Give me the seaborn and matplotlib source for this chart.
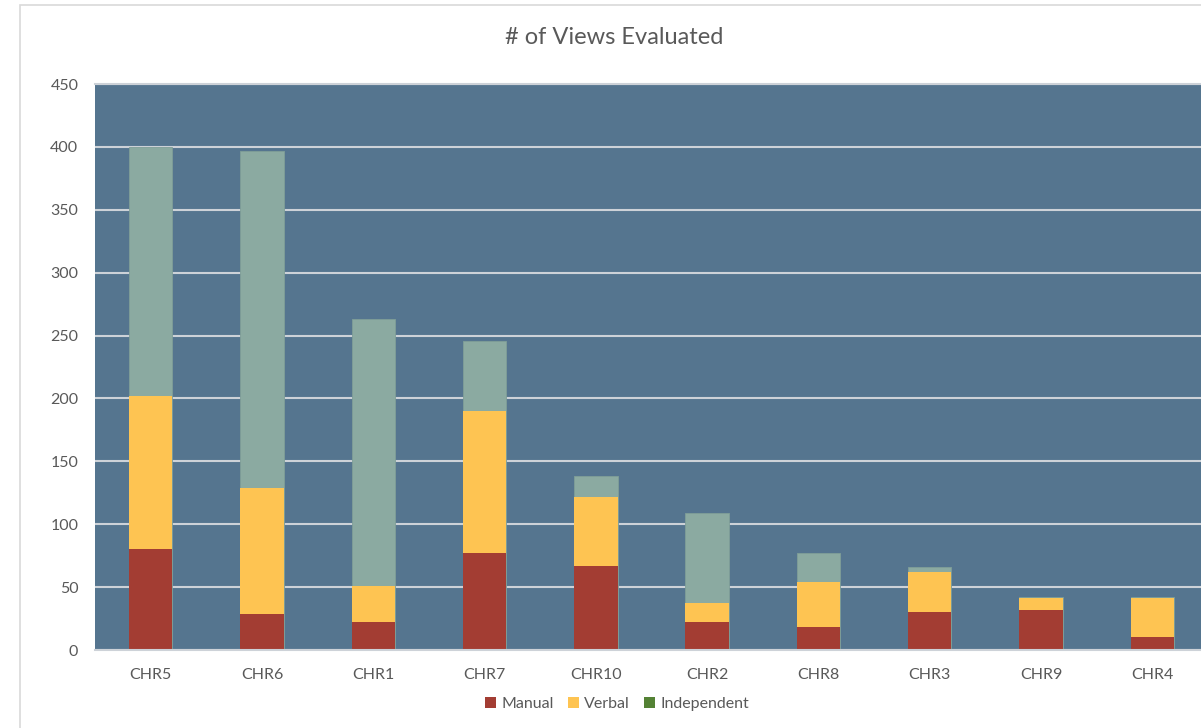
import matplotlib
matplotlib.use("Agg")
import matplotlib.pyplot as plt
import seaborn as sns
import pandas as pd
from matplotlib.patches import Patch, Rectangle

# ---- data ----
categories = ["CHR5", "CHR6", "CHR1", "CHR7", "CHR10", "CHR2", "CHR8", "CHR3", "CHR9", "CHR4"]
manual = [80, 29, 22, 77, 67, 22, 18, 30, 32, 10]
verbal = [122, 100, 29, 113, 55, 15, 36, 32, 9, 31]
independent = [198, 268, 212, 56, 16, 72, 23, 4, 1, 1]
series_names = ["Manual", "Verbal", "Independent"]
yticks = [0, 50, 100, 150, 200, 250, 300, 350, 400, 450]
title = "# of Views Evaluated"

# ---- styles ----
bg = "#55758F"
c_manual = "#A33D33"
c_verbal = "#FEC452"
c_indep_bar = "#8BAAA1"
c_indep_legend = "#548235"
grid_c = "#CDD2D8"
text_c = "#595959"

sns.set_style("white")
plt.rcParams["font.family"] = ["Lato", "DejaVu Sans"]

df = pd.DataFrame({"chr": categories, "Manual": manual,
                   "Verbal": verbal, "Independent": independent})
df["mv"] = df["Manual"] + df["Verbal"]
df["total"] = df["mv"] + df["Independent"]

W, H = 1201, 728
fig = plt.figure(figsize=(W / 100, H / 100), dpi=100)
fig.patch.set_facecolor("white")

# outer chart frame (cropped on right/bottom)
fig.patches.append(Rectangle((20 / W, -0.5), 2.0, 1.5 - 5 / H,
                             transform=fig.transFigure, fill=False,
                             edgecolor="#D9D9D9", linewidth=1.2))

ax = fig.add_axes([95 / W, 1 - 650 / H, (1208 - 95) / W, (650 - 84) / H])
ax.set_facecolor(bg)

bw = 0.39
sns.barplot(data=df, x="chr", y="total", order=categories, color=c_indep_bar,
            saturation=1, width=bw, linewidth=0.6, edgecolor="#7F9E97", ax=ax)
sns.barplot(data=df, x="chr", y="mv", order=categories, color=c_verbal,
            saturation=1, width=bw, linewidth=0, ax=ax)
sns.barplot(data=df, x="chr", y="Manual", order=categories, color=c_manual,
            saturation=1, width=bw, linewidth=0, ax=ax)

ax.set_xlim(-0.5, len(categories) - 0.5)
ax.set_ylim(0, 450)
ax.set_yticks(yticks)
ax.set_xlabel("")
ax.set_ylabel("")
ax.set_axisbelow(True)
ax.yaxis.grid(True, color=grid_c, linewidth=1.5)
ax.xaxis.grid(False)
for s in ["left", "right"]:
    ax.spines[s].set_visible(False)
for s in ["top", "bottom"]:
    ax.spines[s].set_visible(True)
    ax.spines[s].set_color(grid_c)
    ax.spines[s].set_linewidth(1.5)

ax.tick_params(axis="y", length=0, pad=12, labelsize=11.5, labelcolor=text_c)
ax.tick_params(axis="x", length=0, pad=13, labelsize=11.5, labelcolor=text_c)

fig.text(614 / W, 1 - 37 / H, title, ha="center", va="center",
         fontsize=17, color=text_c)

handles = [Patch(facecolor=c, edgecolor="none", label=n)
           for c, n in zip([c_manual, c_verbal, c_indep_legend], series_names)]
fig.legend(handles=handles, loc="center", bbox_to_anchor=(617 / W, 1 - 704 / H),
           ncol=3, frameon=False, fontsize=11.5, labelcolor=text_c,
           handlelength=0.7, handleheight=0.7, handletextpad=0.3,
           columnspacing=0.9)

fig.savefig("out.png", dpi=100)
